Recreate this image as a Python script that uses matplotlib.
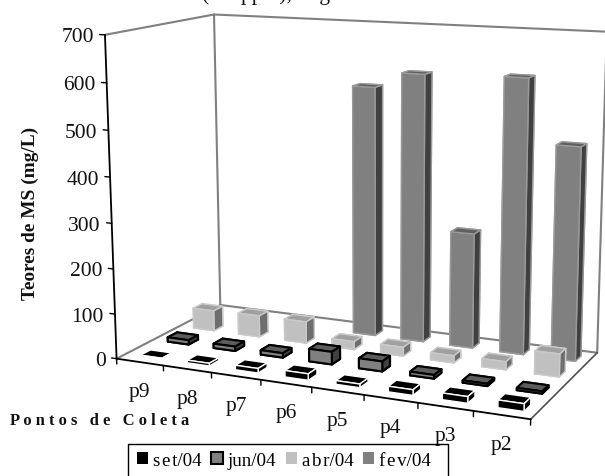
import numpy as np
import matplotlib
matplotlib.use('Agg')
import matplotlib.pyplot as plt
from matplotlib.lines import Line2D
from matplotlib.patches import Patch
from mpl_toolkits.mplot3d import proj3d

plt.rcParams['font.family'] = ['Liberation Serif', 'DejaVu Serif']

categories = ['p9', 'p8', 'p7', 'p6', 'p5', 'p4', 'p3', 'p2']
set04 = [2, 6, 10, 14, 8, 12, 14, 16]
jun04 = [10, 10, 10, 28, 22, 8, 5, 5]
abr04 = [47, 49, 49, 18, 20, 16, 18, 50]
fev04 = [None, None, None, 565, 600, 258, 605, 467]
z_ticks = [0, 100, 200, 300, 400, 500, 600, 700]
series_names = ['s\u200ae\u200at/04', 'jun/04', 'a\u200ab\u200ar/04', 'f\u200ae\u200av/04']

W, H = 605, 477
fig = plt.figure(figsize=(W / 100, H / 100), dpi=100)
s = H / W
ax = fig.add_axes([0.5803 - s / 2, 0.5694 - 0.5, s, 1.0], projection='3d')
ax.set_xlim(0, 8); ax.set_ylim(0, 4); ax.set_zlim(0, 700)
ax.view_init(elev=12.1621, azim=-65.665, roll=0.1621)
ax.set_proj_type('persp', focal_length=0.6235)
ax.set_box_aspect((1, 0.4903, 0.7475), zoom=1.204)
ax.set_axis_off()
ax.patch.set_alpha(0)
ax.computed_zorder = False
ax.apply_aspect()

GR = '#808080'
nx, ny, zt = 8, 4, 700
def line(xs, ys, zs, c=GR, lw=1.5, zo=1):
    ax.plot(xs, ys, zs, color=c, lw=lw, zorder=zo, solid_capstyle='round', clip_on=False)

def label(x, y, z, text, dx, dy, **kw):
    M = ax.get_proj()
    px, py, _ = proj3d.proj_transform(x, y, z, M)
    ax.annotate(text, xy=(px, py), xycoords='data', xytext=(dx, dy), textcoords='offset pixels',
                annotation_clip=False, color='#111111', va='center', **kw)

line([0, 0], [0, ny], [0, 0])
line([0, nx], [ny, ny], [0, 0])
line([0, 0], [ny, ny], [0, zt])
line([nx, nx], [ny, ny], [0, zt])
line([0, 0], [0, ny], [zt, zt])
line([0, nx], [ny, ny], [zt, zt])
line([nx, nx], [0, ny], [0, 0], c='#505050', lw=1.2)
line([0, nx], [0, 0], [0, 0], c='black', lw=1.3, zo=2)
line([0, 0], [0, 0], [0, zt], c='black', lw=1.3, zo=2)
for i in range(nx + 1):
    line([i, i], [0, 0], [0, -12], c='black', lw=1.0, zo=2)
for v in z_ticks:
    line([0, -0.11], [0, 0], [v, v], c='black', lw=1.0, zo=2)

ts = 15.5
for i, c in enumerate(categories):
    label(i + 0.5, 0, 0, c, 0, -29, fontsize=ts, ha='center')
for v in z_ticks:
    label(0, 0, v, str(v), -11, -2, fontsize=ts, ha='right')

styles = [
    # front, top, right, edge, lw
    ('#000000', '#000000', '#000000', '#ffffff', 1.0),
    ('#808080', '#5c5c5c', '#404040', '#000000', 1.5),
    ('#c0c0c0', '#a0a0a0', '#6e6e6e', '#cacaca', 1.0),
    ('#808080', '#606060', '#404040', '#9a9a9a', 1.0),
]
series = [set04, jun04, abr04, fev04]
width, depth = 0.46, 0.36
shift = 0.05
zo = 10
for i in range(nx):
    for k in range(3, -1, -1):
        v = series[k][i]
        if v is None:
            continue
        f, t, r, e, lw = styles[k]
        cols = [t, t, f, f, r, r]
        b = ax.bar3d(i + 0.5 + shift - width / 2, k + 0.5 - depth / 2, 0, width, depth, v,
                     color=cols, edgecolor=e, linewidth=lw, shade=False, zorder=zo)
        b.set_clip_on(False)
        zo += 1

# axis titles
fig.text(30 / W, 1 - 213 / H, 'Teores de MS (mg/L)', rotation=90, fontsize=13.9, fontweight='bold',
         ha='center', va='center', color='#111111')
fig.text(10 / W, 1 - 421 / H, 'P o n t o s   d e   C o l e t a', fontsize=11.9, fontweight='bold',
         ha='left', va='center', color='#111111')
# title cut off by the top edge of the image
fig.text(202 / W, 1.0, '(em ppm),  mg/L', fontsize=ts, ha='left', va='baseline', color='#111111')

# legend, its box runs past the bottom of the image
handles = [Patch(facecolor=styles[k][0], edgecolor='black' if k == 1 else 'none',
                 linewidth=1.5 if k == 1 else 0) for k in range(4)]
fig.legend(handles, series_names, loc='upper left', bbox_to_anchor=(137 / W, 1 - 453 / H),
           bbox_transform=fig.transFigure, ncol=4, frameon=False, fontsize=13.7,
           handlelength=0.6, handleheight=0.6, handletextpad=0.25, columnspacing=0.5,
           borderpad=0, borderaxespad=0, labelspacing=0)
fx = [128 / W, 128 / W, 448 / W, 448 / W]
fy = [0, 1 - 445 / H, 1 - 445 / H, 0]
fig.add_artist(Line2D(fx, fy, color='black', lw=1.0, transform=fig.transFigure))

fig.savefig('out.png', dpi=100)
